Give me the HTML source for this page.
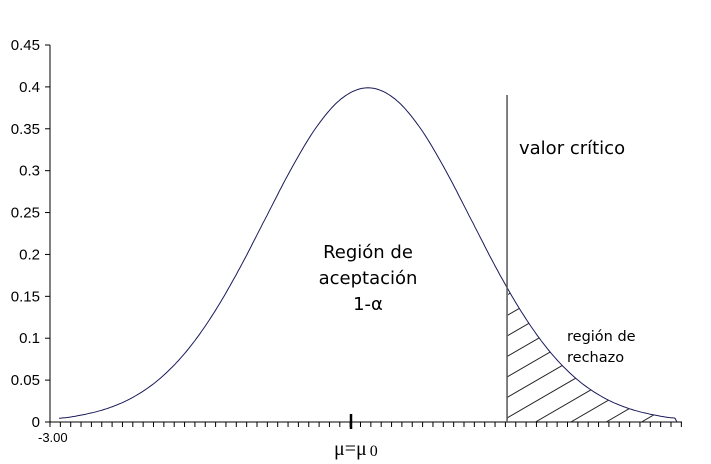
<!DOCTYPE html>
<html><head><meta charset="utf-8"><style>
html,body{margin:0;padding:0;background:#fff;width:711px;height:464px;overflow:hidden;}
svg{display:block;font-family:"Liberation Sans",sans-serif;}
.ct{font-family:"DejaVu Sans","Liberation Sans",sans-serif;}
</style></head><body>
<svg id="chart" width="711" height="464" viewBox="0 0 711 464">
<defs><clipPath id="rej"><path id="rejPath" d=""/></clipPath></defs>
<g id="yaxis"></g>
<g id="xaxis"></g>
<g id="hatch" clip-path="url(#rej)"></g>
<path id="curve" fill="none" stroke="#1a1a5a" stroke-width="1"/>
<line id="crit" stroke="#555" stroke-width="1.5"/>
<line x1="351" y1="414" x2="351" y2="429" stroke="#000" stroke-width="2.5"/>
<text x="38" y="442" font-size="13">-3.00</text>
<text x="334" y="455" font-size="20" font-family="Liberation Serif,serif">μ=μ<tspan font-size="16" dx="3" dy="1">0</tspan></text>
<g class="ct" font-size="18" fill="#000" text-anchor="middle">
<text x="368" y="258">Región de</text>
<text x="368" y="284">aceptación</text>
<text x="368" y="310">1-α</text>
</g>
<text class="ct" x="519" y="154" font-size="18">valor crítico</text>
<g class="ct" font-size="14.5">
<text x="567" y="341">región de</text>
<text x="567" y="362">rechazo</text>
</g>
</svg>
<script>
const yTicks=[0,0.05,0.1,0.15,0.2,0.25,0.3,0.35,0.4,0.45];
const yTickLabels=["0","0.05","0.1","0.15","0.2","0.25","0.3","0.35","0.4","0.45"];
const zValues=[-3,-2.75,-2.5,-2.25,-2,-1.75,-1.5,-1.25,-1,-0.75,-0.5,-0.25,0,0.25,0.5,0.75,1,1.25,1.5,1.75,2,2.25,2.5,2.75,3];
const densityValues=[0.0044,0.0091,0.0175,0.0317,0.0540,0.0863,0.1295,0.1826,0.2420,0.3011,0.3521,0.3867,0.3989,0.3867,0.3521,0.3011,0.2420,0.1826,0.1295,0.0863,0.0540,0.0317,0.0175,0.0091,0.0044];
const criticalZ=[1.35];
const NS="http://www.w3.org/2000/svg";
const X=z=>368+103*z;
const Y=v=>422-v*(422-45)/0.45;
function mk(t,a,p){const e=document.createElementNS(NS,t);for(const k in a)e.setAttribute(k,a[k]);p.appendChild(e);return e;}
const ya=document.getElementById('yaxis');
const yl=mk('line',{x1:50,y1:45,x2:50,y2:422,stroke:'#000'},ya);


yTicks.forEach((v,i)=>{
 const t=mk('line',{x1:45,x2:50,y1:Y(v),y2:Y(v),stroke:'#000'},ya);
 
 
 const l=mk('text',{x:40,y:Y(v)+5,'font-size':15,'text-anchor':'end'},ya);
 l.textContent=yTickLabels[i];
 
 
});
const xa=document.getElementById('xaxis');
const xl=mk('line',{x1:50,y1:422,x2:682,y2:422,stroke:'#000'},xa);


for(let i=0;i<=61;i++){
 const x=50+i*10.35;
 const t=mk('line',{x1:x,x2:x,y1:422,y2:427,stroke:'#000'},xa);
 
 
}
function interp(z){
 for(let i=0;i<zValues.length-1;i++){
  if(z>=zValues[i]&&z<=zValues[i+1]){
   const p0=densityValues[Math.max(i-1,0)],p1=densityValues[i],p2=densityValues[i+1],p3=densityValues[Math.min(i+2,zValues.length-1)];
   const t=(z-zValues[i])/(zValues[i+1]-zValues[i]);
   return 0.5*((2*p1)+(-p0+p2)*t+(2*p0-5*p1+4*p2-p3)*t*t+(-p0+3*p1-3*p2+p3)*t*t*t);
  }
 }
 return 0;
}
const z0=zValues[0],z1=zValues[zValues.length-1];
const pts=[];
for(let z=z0;z<=z1+1e-9;z+=0.02){pts.push([X(z),Y(interp(z))]);}
const d=pts.map((p,i)=>(i?'L':'M')+p[0].toFixed(1)+','+p[1].toFixed(1)).join('');
document.getElementById('curve').setAttribute('d',d);
const cz=criticalZ[0],cx=X(cz);
const cl=document.getElementById('crit');
cl.setAttribute('x1',cx);cl.setAttribute('x2',cx);cl.setAttribute('y1',95);cl.setAttribute('y2',422);
let rd='M'+cx+',422';
pts.filter(p=>p[0]>=cx).forEach(p=>rd+='L'+p[0].toFixed(1)+','+p[1].toFixed(1));
rd+='L'+X(z1)+',422Z';
document.getElementById('rejPath').setAttribute('d',rd);
const h=document.getElementById('hatch');
const slope=0.58;
for(let k=-8;k<20;k++){
 const y0=418+k*20.5;
 let sx=cx,sy=y0;
 if(y0>422){sx=cx+(y0-422)/slope;sy=422;}
 if(sx>682)continue;
 const ex=682,ey=y0-(ex-cx)*slope;
 const hl=mk('line',{x1:sx,y1:sy,x2:ex,y2:ey,stroke:'#222','stroke-width':1},h);
 
 
}
</script>
</body></html>
